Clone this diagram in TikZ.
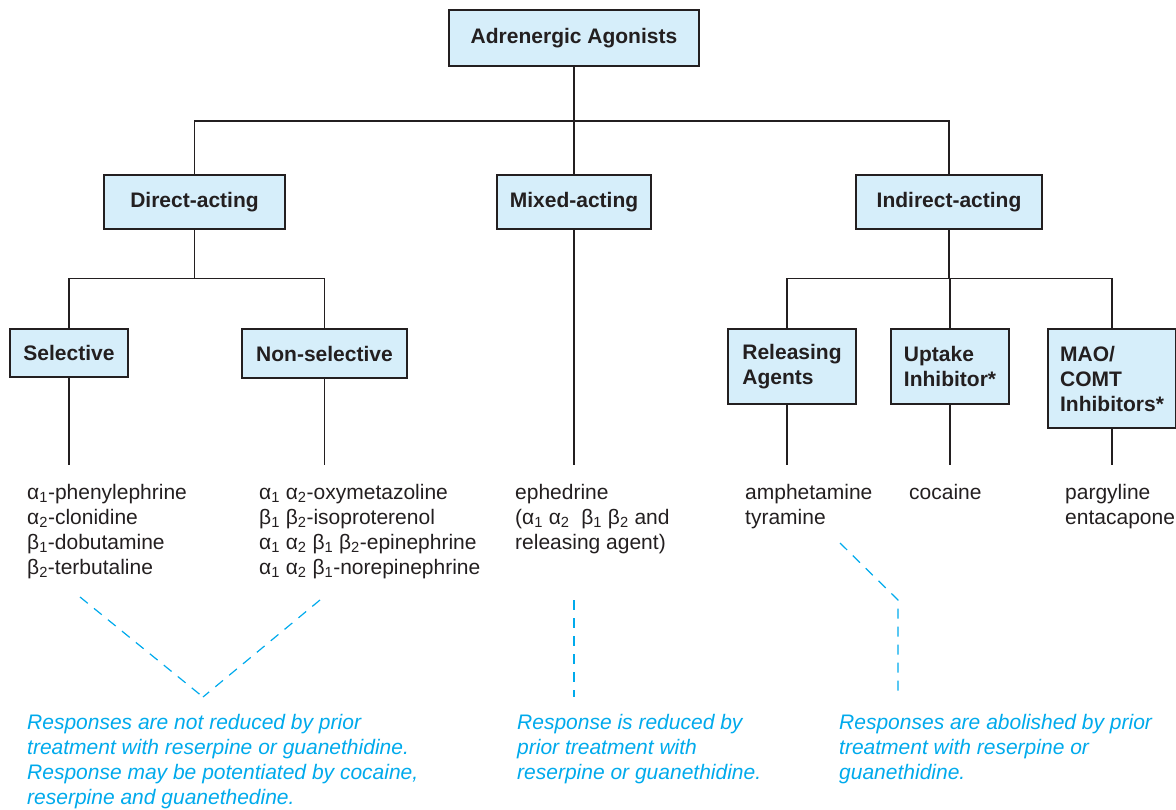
\documentclass[tikz,border=0pt]{standalone}
\usepackage{fontspec}
\setmainfont{Liberation Sans}
\usetikzlibrary{calc}

\definecolor{boxblue}{RGB}{214,238,250}
\definecolor{notecyan}{RGB}{0,170,236}
\definecolor{inkgray}{RGB}{35,31,32}

\begin{document}
\begin{tikzpicture}[x=1pt,y=-1pt,
  box/.style={draw=inkgray,line width=1.4pt,fill=boxblue,text=inkgray,align=left,inner sep=0pt,
    font=\fontsize{21}{25}\selectfont\bfseries},
  drug/.style={anchor=base west,align=left,text=inkgray,inner sep=0pt,font=\fontsize{21}{25}\selectfont},
  note/.style={anchor=base west,align=left,text=notecyan,inner sep=0pt,font=\fontsize{21}{25}\selectfont\itshape},
  link/.style={draw=inkgray,line width=1.2pt},
  hint/.style={draw=notecyan,line width=1.2pt,dash pattern=on 10pt off 8pt}]
  \useasboundingbox (0,0) rectangle (1176,810);
  % Class boxes
  \node[box,minimum width=250pt,minimum height=56pt] (agonists) at (574,38) {Adrenergic Agonists};
  \node[box,minimum width=181pt,minimum height=54pt] (direct) at (194.5,202) {Direct-acting};
  \node[box,minimum width=154pt,minimum height=54pt] (mixed) at (574,202) {Mixed-acting};
  \node[box,minimum width=186pt,minimum height=54pt] (indirect) at (949,202) {Indirect-acting};
  \node[box,minimum width=118pt,minimum height=48pt] (selective) at (69,353) {Selective};
  \node[box,minimum width=165pt,minimum height=49pt] (nonsel) at (324.5,353.5) {Non-selective};
  \node[box,minimum width=128pt,minimum height=75pt] (releasing) at (792,366.5) {Releasing\\Agents};
  \node[box,minimum width=118pt,minimum height=75pt] (uptake) at (950,366.5) {Uptake\\Inhibitor*};
  \node[box,minimum width=128pt,minimum height=99pt] (maocomt) at (1112,378.5) {MAO/\\COMT\\Inhibitors*};
  % Tree links
  \draw[link] (agonists.south) -- (574,121) coordinate (topfork);
  \draw[link] (direct.north) |- (topfork) -| (indirect.north);
  \draw[link] (topfork) -- (mixed.north);
  \draw[link] (direct.south) -- ++(0,49) coordinate (directfork);
  \draw[link] (selective.north) |- (directfork) -| (nonsel.north);
  \draw[link] (indirect.south) -- ++(0,49) coordinate (indirectfork);
  \draw[link] ([xshift=-5pt]releasing.north) |- (indirectfork) -| (maocomt.north);
  \draw[link] (uptake.north) -- (uptake.north |- indirectfork);
  % Drops to the drug lists
  \coordinate (selend) at (69,465);
  \coordinate (nonend) at (324.5,465);
  \coordinate (mixend) at (574,465);
  \coordinate (relend) at (787,465);
  \coordinate (upend) at (950,465);
  \coordinate (maoend) at (1112,465);
  \foreach \b/\e in {selective/selend,nonsel/nonend,mixed/mixend,uptake/upend,maocomt/maoend}{
    \draw[link] (\b.south) -- (\e);
  }
  \draw[link] ([xshift=-5pt]releasing.south) -- (relend);
  % Drug lists (placed by the baseline of their last line)
  \node[drug] (sellist) at (27,574) {α\textsubscript{1}-phenylephrine\\α\textsubscript{2}-clonidine\\β\textsubscript{1}-dobutamine\\β\textsubscript{2}-terbutaline};
  \node[drug] (nonlist) at (259,574) {α\textsubscript{1} α\textsubscript{2}-oxymetazoline\\β\textsubscript{1} β\textsubscript{2}-isoproterenol\\α\textsubscript{1} α\textsubscript{2} β\textsubscript{1} β\textsubscript{2}-epinephrine\\α\textsubscript{1} α\textsubscript{2} β\textsubscript{1}-norepinephrine};
  \node[drug] (mixlist) at (515,549) {ephedrine\\(α\textsubscript{1} α\textsubscript{2}\ \ β\textsubscript{1} β\textsubscript{2} and\\releasing agent)};
  \node[drug] (rellist) at (745,524) {amphetamine\\tyramine};
  \node[drug] (uplist) at (909,499) {cocaine};
  \node[drug] (maolist) at (1065,524) {pargyline\\entacapone};
  % Dashed hints down to the notes
  \coordinate (selhint) at (80,597);
  \coordinate (nonhint) at (320,600);
  \coordinate (leftmeet) at (203,697);
  \coordinate (mixhint) at (574,600);
  \coordinate (midmeet) at (574,697);
  \coordinate (relhint) at (840,543);
  \coordinate (relbend) at (898,600);
  \coordinate (rightmeet) at (898,697);
  \draw[hint] (selhint) -- (leftmeet);
  \draw[hint] (nonhint) -- (leftmeet);
  \draw[hint] (mixhint) -- (midmeet);
  \draw[hint] (relhint) -- (relbend) -- (rightmeet);
  % Notes
  \node[note] (leftnote) at (27,804) {Responses are not reduced by prior\\treatment with reserpine or guanethidine.\\Response may be potentiated by cocaine,\\reserpine and guanethedine.};
  \node[note] (midnote) at (517,779) {Response is reduced by\\prior treatment with\\reserpine or guanethidine.};
  \node[note] (rightnote) at (839,779) {Responses are abolished by prior\\treatment with reserpine or\\guanethidine.};
\end{tikzpicture}
\end{document}
